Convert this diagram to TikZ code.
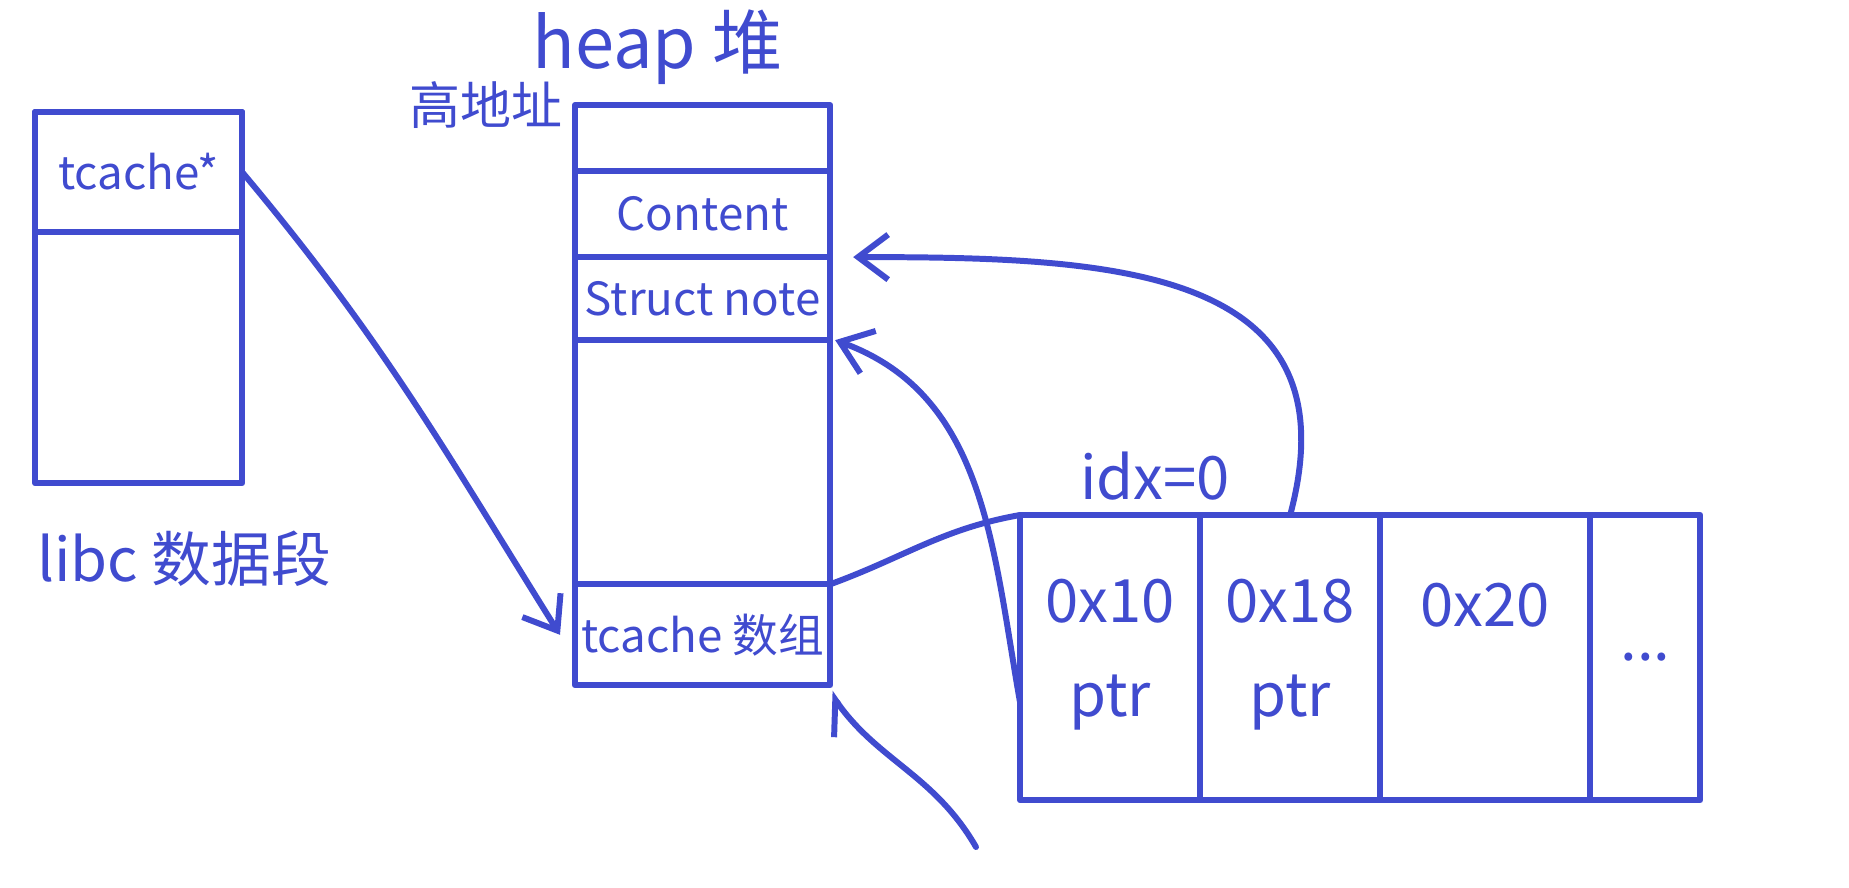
\documentclass[tikz,border=0pt]{standalone}
\usepackage{fontspec}
\setmainfont{Noto Sans CJK SC}
\usepackage{tikz}
\usetikzlibrary{arrows.meta,positioning,calc}
\definecolor{pen}{RGB}{64,75,207}

\begin{document}
\begin{tikzpicture}[
        x=0.01cm, y=-0.01cm,
        pen line/.style={draw=pen, line width=1.7pt, line cap=round, line join=round},
        box/.style={pen line, rectangle, inner sep=0pt, outer sep=0pt},
        txt/.style={text=pen, font=\fontsize{13}{15}\selectfont},
        big txt/.style={text=pen, font=\fontsize{17}{20}\selectfont},
        link/.style={pen line, -{Straight Barb[length=3mm,width=4.5mm]}},
        hook/.style={pen line, -{Straight Barb[harpoon,length=3mm,width=4.5mm]}},
    ]
    \useasboundingbox (0,0) rectangle (1849,887);

    % libc
    \node[box, minimum width=2.07cm, minimum height=3.71cm, anchor=north west] (libc) at (35,112) {};
    \node[box, txt, minimum width=2.07cm, minimum height=1.2cm, anchor=north west] (tptr) at (libc.north west) {tcache*};
    \node[big txt, below right=0.35cm and -0.1cm of libc.south west] (libclbl) {libc 数据段};

    % heap
    \node[box, minimum width=2.55cm, minimum height=0.66cm, anchor=north west] (htop) at (575,105) {};
    \node[box, txt, minimum width=2.55cm, minimum height=0.86cm, below=0pt of htop] (content) {Content};
    \node[box, txt, minimum width=2.55cm, minimum height=0.83cm, below=0pt of content] (snote) {Struct note};
    \node[box, minimum width=2.55cm, minimum height=2.44cm, below=0pt of snote] (hfree) {};
    \node[box, txt, minimum width=2.55cm, minimum height=1.01cm, below=0pt of hfree] (tcarr) {tcache 数组};
    \node[text=pen, font=\fontsize{20}{24}\selectfont, above=0.08cm of htop.north, xshift=-0.45cm] (heaplbl) {heap 堆};
    \node[text=pen, font=\fontsize{14.5}{17}\selectfont, left=0pt of htop.north west] (highlbl) {高地址};

    % tcache entries
    \node[box, minimum width=1.8cm, minimum height=2.85cm, anchor=north west] (c0) at (1020,515) {};
    \node[box, minimum width=1.8cm, minimum height=2.85cm, right=0pt of c0] (c1) {};
    \node[box, minimum width=2.1cm, minimum height=2.85cm, right=0pt of c1] (c2) {};
    \node[box, big txt, minimum width=1.1cm, minimum height=2.85cm, right=0pt of c2] (c3) {...};
    \node[big txt] (s10) at ([yshift=-0.86cm]c0.north) {0x10};
    \node[big txt] (p0) at ([yshift=-1.87cm]c0.north) {ptr};
    \node[big txt] (s18) at ([yshift=-0.86cm]c1.north) {0x18};
    \node[big txt] (p1) at ([yshift=-1.87cm]c1.north) {ptr};
    \node[big txt] (s20) at ([yshift=-0.9cm]c2.north) {0x20};
    \node[big txt, above=0.02cm of c0.north, xshift=0.45cm] (idx) {idx=0};

    % pointers
    \draw[link] (tptr.east) to[out=-50, in=122] ([xshift=-0.15cm]tcarr.west);
    \draw[pen line] (tcarr.north east) to[out=20, in=190] (c0.north west);
    \draw[link] (c1.north) to[out=75, in=0, looseness=1.3] ([xshift=0.23cm]snote.north east);
    \draw[link] (c0.west |- p0.center) to[out=100, in=-20] ([xshift=0.05cm]snote.south east);
    \coordinate (tail) at (976,847);
    \draw[hook] (tail) to[out=120, in=-55] ([yshift=-0.07cm]tcarr.south east);
\end{tikzpicture}
\end{document}
